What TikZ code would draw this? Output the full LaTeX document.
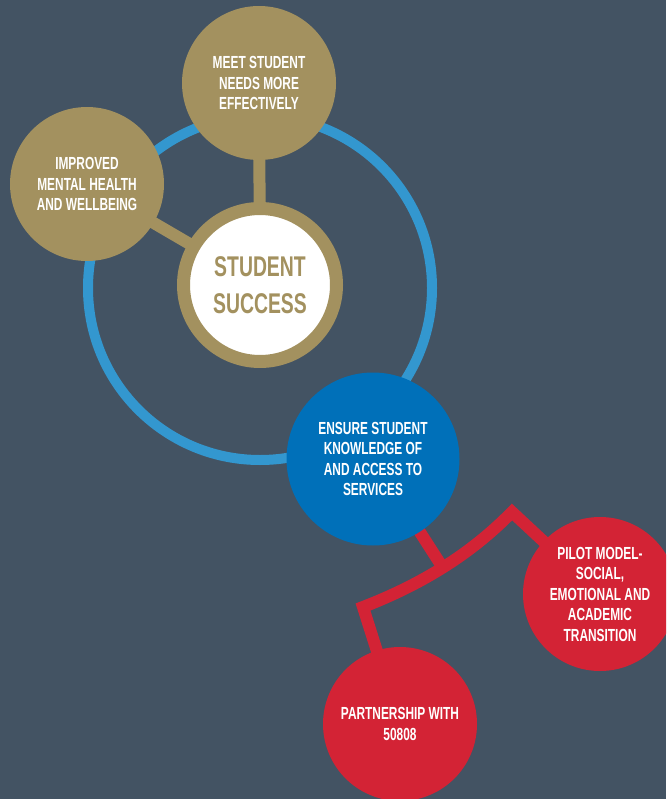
\documentclass[tikz,border=0pt]{standalone}
\usepackage{fontspec}
\setmainfont{Liberation Sans}[FakeStretch=0.68]
\definecolor{bgc}{HTML}{435363}
\definecolor{gold}{HTML}{A3915F}
\definecolor{ringblue}{HTML}{3397CF}
\definecolor{deepblue}{HTML}{0070B9}
\definecolor{redc}{HTML}{D32335}
\pgfdeclarelayer{back}
\pgfdeclarelayer{links}
\pgfsetlayers{back,links,main}
\begin{document}
\begin{tikzpicture}[x=1pt,y=-1pt,
  bubble/.style={circle, inner sep=0pt, align=center, text=white,
    font=\bfseries\fontsize{17.5}{20.5}\selectfont},
  goldbub/.style={bubble, fill=gold, minimum size=154},
  bluebub/.style={bubble, fill=deepblue, minimum size=173},
  redbub/.style={bubble, fill=redc, minimum size=154},
  goldlink/.style={draw=gold, line width=12},
  redlink/.style={draw=redc, line width=12, line join=miter},
  ringstyle/.style={circle, draw=ringblue, line width=10, minimum size=344, inner sep=0pt}
]
\begin{pgfonlayer}{back}
\fill[bgc] (0,0) rectangle (666,799);
\end{pgfonlayer}
\useasboundingbox (0,0) rectangle (666,799);
\clip (0,0) rectangle (666,799);

\begin{pgfonlayer}{links}
\node[ringstyle] (ring) at (260,288) {};
\end{pgfonlayer}

\node[goldbub] (meet) at (259,83) {MEET STUDENT\\NEEDS MORE\\EFFECTIVELY};
\node[goldbub] (mental) at (87,184) {IMPROVED\\MENTAL HEALTH\\AND WELLBEING};
\node[circle, draw=gold, line width=13, fill=white, minimum size=153, inner sep=0pt,
  align=center, text=gold, font=\bfseries\fontsize{28.5}{37}\selectfont]
  (success) at (260,285) {STUDENT\\SUCCESS};
\node[bluebub] (access) at (373,459) {ENSURE STUDENT\\KNOWLEDGE OF\\AND ACCESS TO\\SERVICES};
\node[redbub] (pilot) at (600,594) {PILOT MODEL-\\SOCIAL,\\EMOTIONAL AND\\ACADEMIC\\TRANSITION};
\node[redbub] (partner) at (400,724) {PARTNERSHIP WITH\\50808};

\coordinate (bend) at (363,607);
\coordinate (peak) at (512,512);
\coordinate (fork) at (443,568);

\begin{pgfonlayer}{links}
\draw[goldlink] (success.center) -- (meet.center);
\draw[goldlink] (success.center) -- (mental.center);
\draw[redlink] (partner.center) -- (bend) .. controls (420,585) and (470,555) .. (peak) -- (pilot.center);
\draw[redlink] (access.center) -- (fork);
\end{pgfonlayer}
\end{tikzpicture}
\end{document}
